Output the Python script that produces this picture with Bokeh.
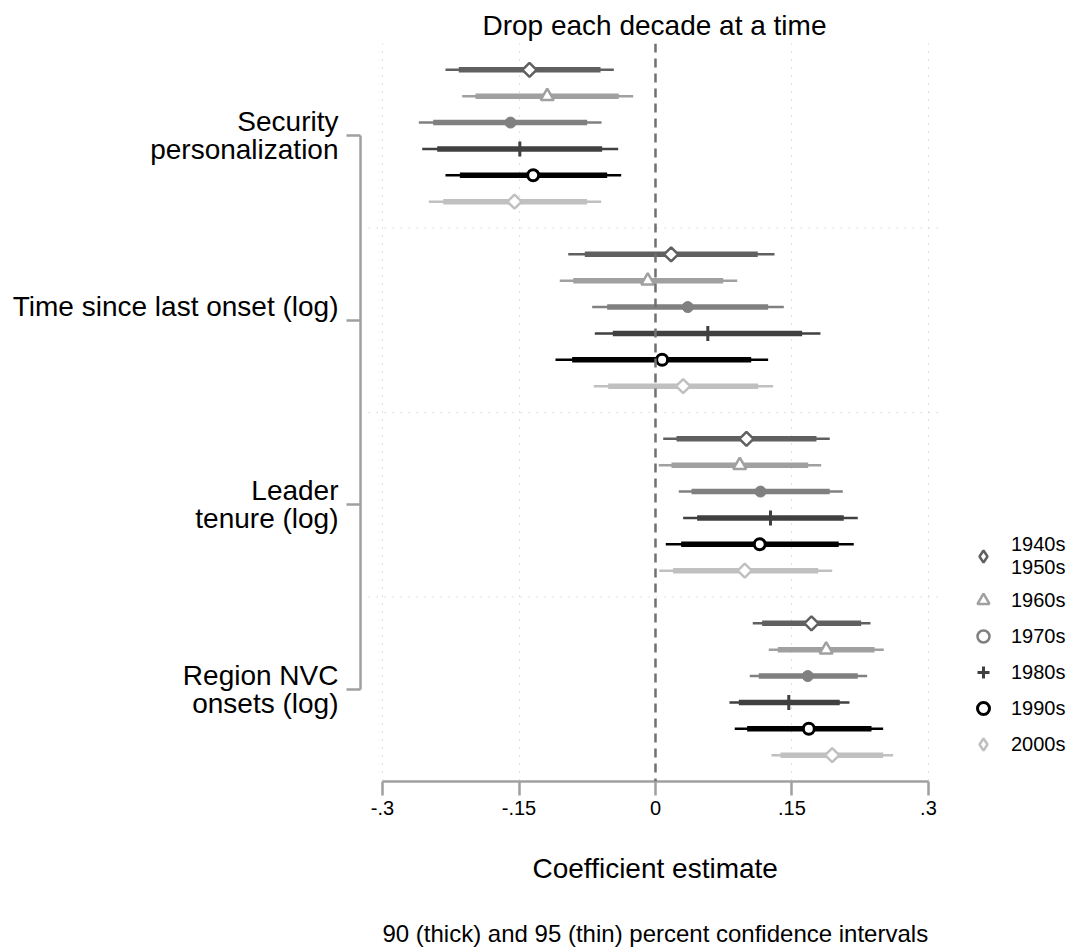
from bokeh.plotting import figure
from bokeh.models import Range1d, FixedTicker, Span, Legend, LegendItem, Title
from bokeh.embed import file_html
from bokeh.resources import INLINE
import math

# ---------------- data ----------------
variables = ["Security personalization", "Time since last onset (log)",
             "Leader tenure (log)", "Region NVC onsets (log)"]
var_labels = ["Security\npersonalization", "Time since last onset (log)\n",
              "Leader\ntenure (log)", "Region NVC\nonsets (log)"]
decades = ["1940s\n1950s", "1960s", "1970s", "1980s", "1990s", "2000s"]

# point estimates, one list per dropped decade (order of variables)
point_est = [
    [-0.1385, 0.0172, 0.1000, 0.1714],
    [-0.1190, -0.0085, 0.0926, 0.1876],
    [-0.1593, 0.0355, 0.1154, 0.1674],
    [-0.1491, 0.0575, 0.1264, 0.1465],
    [-0.1344, 0.0073, 0.1146, 0.1685],
    [-0.1549, 0.0304, 0.0981, 0.1942],
]
lo95 = [
    [-0.2308, -0.0959, 0.0085, 0.1069],
    [-0.2124, -0.1052, 0.0036, 0.1245],
    [-0.2601, -0.0696, 0.0256, 0.1036],
    [-0.2564, -0.0667, 0.0304, 0.0813],
    [-0.2308, -0.1099, 0.0113, 0.0871],
    [-0.2491, -0.0678, 0.0041, 0.1275],
]
lo90 = [
    [-0.2162, -0.0777, 0.0231, 0.1172],
    [-0.1978, -0.0904, 0.0176, 0.1344],
    [-0.2443, -0.0531, 0.0396, 0.1135],
    [-0.2399, -0.0469, 0.0458, 0.0916],
    [-0.2150, -0.0916, 0.0282, 0.1007],
    [-0.2333, -0.0520, 0.0194, 0.1374],
]
hi90 = [
    [-0.0604, 0.1124, 0.1769, 0.2260],
    [-0.0403, 0.0744, 0.1678, 0.2407],
    [-0.0751, 0.1238, 0.1915, 0.2223],
    [-0.0586, 0.1612, 0.2069, 0.2025],
    [-0.0531, 0.1052, 0.2014, 0.2374],
    [-0.0751, 0.1128, 0.1788, 0.2502],
]
hi95 = [
    [-0.0458, 0.1308, 0.1915, 0.2363],
    [-0.0245, 0.0898, 0.1821, 0.2509],
    [-0.0593, 0.1410, 0.2058, 0.2326],
    [-0.0410, 0.1813, 0.2223, 0.2132],
    [-0.0377, 0.1238, 0.2179, 0.2502],
    [-0.0597, 0.1293, 0.1942, 0.2612],
]
x_ticks = [-0.3, -0.15, 0, 0.15, 0.3]
x_tick_labels = ["-.3", "-.15", "0", ".15", ".3"]

# ---------------- styles ----------------
FONT = "Liberation Sans"
colors = ["#606060", "#a0a0a0", "#808080", "#404040", "#000000", "#c0c0c0"]
markers = [
    dict(marker="square", size=10, angle=math.pi / 4, line_width=2.5, fill_color="white"),
    dict(marker="triangle", size=13, line_width=2.5, fill_color="white"),
    dict(marker="circle", size=11, line_width=1, fill_color=None),
    dict(marker="cross", size=15, line_width=3, fill_color=None),
    dict(marker="circle", size=11, line_width=3, fill_color="white"),
    dict(marker="square", size=10, angle=math.pi / 4, line_width=2.5, fill_color="white"),
]
legend_markers = [
    dict(marker="diamond", line_width=2.5, fill_color="white"),
    dict(marker="triangle", line_width=2.5, fill_color="white"),
    dict(marker="circle", line_width=2.5, fill_color="white"),
    dict(marker="cross", line_width=3, fill_color=None),
    dict(marker="circle", line_width=3, fill_color="white"),
    dict(marker="diamond", line_width=2.5, fill_color="white"),
]

n_dec = len(decades)
group_size = n_dec + 1
n_slots = group_size * len(variables)

p = figure(width=1076, height=951, output_backend="svg", toolbar_location=None,
           x_range=Range1d(-0.3242, 0.4627), y_range=Range1d(n_slots, 0),
           min_border_left=360, min_border_right=0, min_border_top=43,
           min_border_bottom=170)
p.outline_line_color = None
p.background_fill_color = "white"
p.border_fill_color = "white"

p.title.text = "Drop each decade at a time"
p.title.align = "left"
p.title.offset = 122
p.title.text_font = FONT
p.title.text_font_size = "28px"
p.title.text_font_style = "normal"
p.title.text_color = "black"
p.title.standoff = 6

# x axis
p.xaxis.ticker = FixedTicker(ticks=x_ticks)
p.xaxis.major_label_overrides = {t: l for t, l in zip(x_ticks, x_tick_labels)}
p.xaxis.bounds = (-0.3, 0.3)
p.xaxis.axis_line_color = "#a0a0a0"
p.xaxis.axis_line_width = 2.5
p.xaxis.major_tick_line_color = "#a0a0a0"
p.xaxis.major_tick_line_width = 2.5
p.xaxis.major_tick_out = 14
p.xaxis.major_tick_in = 0
p.xaxis.minor_tick_out = 0
p.xaxis.minor_tick_in = 0
p.xaxis.major_label_text_font = FONT
p.xaxis.major_label_text_font_size = "20px"
p.xaxis.major_label_text_color = "black"
p.xaxis.major_label_standoff = 5

p.add_layout(Title(text="Coefficient estimate", align="left", offset=172,
                   text_font=FONT, text_font_size="28px", text_font_style="normal",
                   text_color="black", standoff=66), "below")
p.add_layout(Title(text="90 (thick) and 95 (thin) percent confidence intervals",
                   align="left", offset=22, text_font=FONT, text_font_size="24px",
                   text_font_style="normal", text_color="black", standoff=2), "below")

# y axis used as bracket with group labels
centers = [g * group_size + (n_dec + 1) / 2 for g in range(len(variables))]
p.yaxis.ticker = FixedTicker(ticks=centers)
p.yaxis.major_label_overrides = {c: l for c, l in zip(centers, var_labels)}
p.yaxis.bounds = (centers[0], centers[-1])
p.yaxis.axis_line_color = "#a0a0a0"
p.yaxis.axis_line_width = 2.5
p.yaxis.major_tick_line_color = "#a0a0a0"
p.yaxis.major_tick_line_width = 2.5
p.yaxis.major_tick_out = 14
p.yaxis.major_tick_in = 0
p.yaxis.minor_tick_out = 0
p.yaxis.minor_tick_in = 0
p.yaxis.major_label_standoff = 8
p.yaxis.major_label_text_font = FONT
p.yaxis.major_label_text_font_size = "28px"
p.yaxis.major_label_text_line_height = 0.9
p.yaxis.major_label_text_color = "black"

p.ygrid.visible = False
p.xgrid.ticker = FixedTicker(ticks=[-0.3, -0.15, 0.15, 0.3])
p.xgrid.grid_line_color = "#c4c4c4"
p.xgrid.grid_line_dash = "1 7"
p.xgrid.grid_line_width = 1

# group separators
sep_y = [g * group_size for g in range(1, len(variables))]
p.segment(x0=[-0.3154] * len(sep_y), y0=sep_y, x1=[0.3154] * len(sep_y), y1=sep_y,
          line_color="#c4c4c4", line_width=1, line_dash="1 7")

p.add_layout(Span(location=0, dimension="height", line_color="#707070",
                  line_width=2.5, line_dash="9 6"))

# series
for i in range(n_dec):
    ys = [g * group_size + i + 1 for g in range(len(variables))]
    p.segment(x0=lo95[i], y0=ys, x1=hi95[i], y1=ys, line_color=colors[i],
              line_width=2.5, line_cap="butt")
    p.segment(x0=lo90[i], y0=ys, x1=hi90[i], y1=ys, line_color=colors[i],
              line_width=5.5, line_cap="butt")
    m = dict(markers[i])
    fc = m.pop("fill_color")
    p.scatter(x=point_est[i], y=ys, line_color=colors[i],
              fill_color=(colors[i] if fc is None else fc), **m)

# legend
nan = float("nan")
items = []
for i in range(n_dec):
    m = dict(legend_markers[i])
    fc = m.pop("fill_color")
    r = p.scatter(x=[nan], y=[nan], size=10, line_color=colors[i],
                  fill_color=(colors[i] if fc is None else fc), **m)
    items.append(LegendItem(label=decades[i], renderers=[r]))
legend = Legend(items=items, location=(608, 22), glyph_width=30, glyph_height=30,
                label_standoff=13, spacing=6, padding=0, margin=0,
                border_line_color=None, background_fill_alpha=0,
                label_text_font=FONT, label_text_font_size="20px",
                label_text_color="black", label_height=24)
p.add_layout(legend)

open("out.html", "w").write(file_html(p, INLINE))
